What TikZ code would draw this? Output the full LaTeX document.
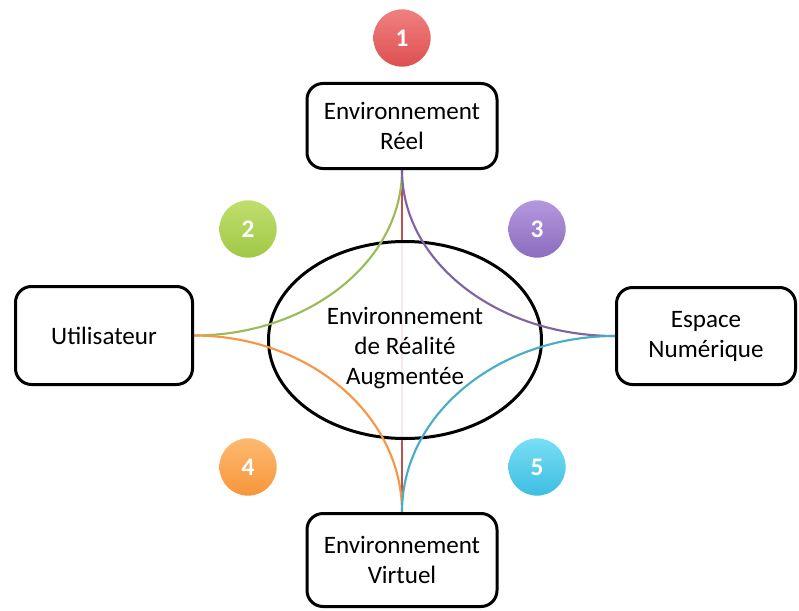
\documentclass[tikz,border=0pt]{standalone}
\usepackage{fontspec}
\setmainfont{Carlito}
\usepackage{tikz}
\usetikzlibrary{shapes.geometric,backgrounds}
\definecolor{lred}{HTML}{C0504D}
\definecolor{lgreen}{HTML}{9BBB59}
\definecolor{lpurple}{HTML}{8064A2}
\definecolor{lorange}{HTML}{F79646}
\definecolor{lcyan}{HTML}{4BACC6}

\begin{document}
\begin{tikzpicture}[x=0.75pt, y=-0.75pt,
  box/.style={draw, line width=2.25pt, rounded corners=12pt, fill=white, align=center, inner sep=0pt, font=\fontsize{18.8}{22.5}\selectfont},
  badge/.style={circle, minimum size=43pt, inner sep=0pt, text=white, font=\fontsize{19}{19}\selectfont\bfseries},
  link/.style={line width=1.6pt}]
  \useasboundingbox (0,0) rectangle (799,610);
  % environments
  \node[box, minimum width=142.5pt, minimum height=63.75pt] (reel) at (402,126) {Environnement\\R\'eel};
  \node[box, minimum width=132.75pt, minimum height=73.5pt] (util) at (104,335.5) {Utilisateur};
  \node[box, minimum width=134.25pt, minimum height=72.75pt] (num) at (706,336) {Espace\\Num\'erique};
  \node[box, minimum width=142.5pt, minimum height=69.75pt] (virt) at (402,560) {Environnement\\Virtuel};
  \begin{scope}[on background layer]
    \draw[link, lred, line width=2pt] (reel.south) -- (virt.north);
    \node[draw, ellipse, line width=2.25pt, fill=white, fill opacity=0.88, text opacity=1, minimum width=204.75pt, minimum height=147.75pt, inner sep=0pt, text height=70pt, align=center, font=\fontsize{18.8}{22.5}\selectfont] (ar) at (405,340) {Environnement\\de R\'ealit\'e\\Augment\'ee};
    \draw[link, lgreen] (reel.south) .. controls +(0,91) and +(115,0) .. (util.east);
    \draw[link, lpurple] (reel.south) .. controls +(0,92) and +(-118,0) .. (num.west);
    \draw[link, lorange] (util.east) .. controls +(115,0) and +(0,-97) .. (virt.north);
    \draw[link, lcyan] (num.west) .. controls +(-118,0) and +(0,-97) .. (virt.north);
  \end{scope}
  % numbered badges
  \node[badge, top color={rgb,255:red,240;green,128;blue,128}, bottom color={rgb,255:red,222;green,80;blue,80}] (b1) at (402,38) {1};
  \node[badge, top color={rgb,255:red,192;green,222;blue,110}, bottom color={rgb,255:red,160;green,200;blue,70}] (b2) at (248,229) {2};
  \node[badge, top color={rgb,255:red,180;green,152;blue,222}, bottom color={rgb,255:red,140;green,108;blue,190}] (b3) at (537,229) {3};
  \node[badge, top color={rgb,255:red,253;green,186;blue,110}, bottom color={rgb,255:red,246;green,150;blue,60}] (b4) at (248,467) {4};
  \node[badge, top color={rgb,255:red,120;green,222;blue,245}, bottom color={rgb,255:red,62;green,190;blue,225}] (b5) at (537,467) {5};
\end{tikzpicture}
\end{document}
